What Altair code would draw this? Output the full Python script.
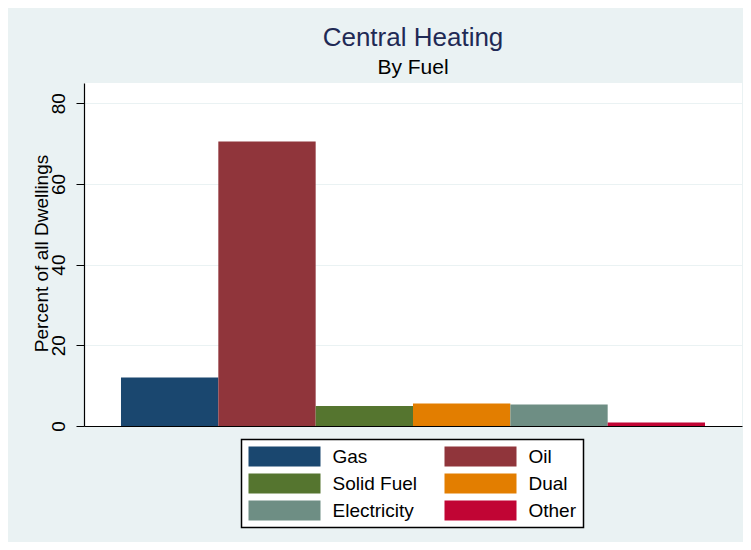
import altair as alt
import pandas as pd

fuels = ["Gas", "Oil", "Solid Fuel", "Dual", "Electricity", "Other"]
percents = [12.0, 70.5, 4.95, 5.6, 5.3, 0.85]
colors = ["#1a476f", "#90353b", "#55752f", "#e37e00", "#6e8e84", "#c10534"]
y_ticks = [0, 20, 40, 60, 80]

df = pd.DataFrame({"fuel": fuels, "pct": percents})

FONT = "Liberation Sans"
BG = "#eaf2f3"
# wide rectangle, 7.2 x 2 units (scaled by sqrt(size)/2 = 10 px), left edge at -1
rect_path = "M-1,-1L6.2,-1L6.2,1L-1,1Z"

chart = alt.Chart(df).mark_bar().encode(
    x=alt.X("fuel:N", sort=fuels,
            scale=alt.Scale(paddingInner=0, paddingOuter=0.38),
            axis=alt.Axis(title=None, labels=False, ticks=False, domain=True,
                          domainColor="#000000", domainWidth=1.2, grid=False)),
    y=alt.Y("pct:Q",
            scale=alt.Scale(domain=[0, 85], nice=False, zero=True),
            axis=alt.Axis(title="Percent of all Dwellings", values=y_ticks,
                          labelAngle=270, labelAlign="center", labelBaseline="alphabetic",
                          labelPadding=12, labelFontSize=19, labelFont=FONT, labelColor="#000000",
                          tickSize=8, tickColor="#000000", tickWidth=1,
                          domainColor="#000000", domainWidth=1.2,
                          grid=True, gridColor=BG, gridWidth=1,
                          titleFontSize=19, titleFont=FONT, titleFontWeight="normal",
                          titleColor="#000000", titleAngle=270, titleAlign="center",
                          titleBaseline="alphabetic", titleX=-37, titleY=170)),
    color=alt.Color("fuel:N", sort=fuels,
                    scale=alt.Scale(domain=fuels, range=colors),
                    legend=alt.Legend(orient="none", legendX=157.5, legendY=356.5,
                                      direction="horizontal",
                                      columns=2, columnPadding=27, rowPadding=7,
                                      padding=7, strokeColor="#000000", fillColor="#ffffff",
                                      symbolType=rect_path, symbolSize=400,
                                      symbolStrokeWidth=0, symbolOpacity=1,
                                      labelFontSize=19, labelFont=FONT, labelColor="#000000",
                                      labelOffset=64, title=None)),
).properties(
    width=658,
    height=343,
    autosize=alt.AutoSizeParams(type="none"),
    padding={"left": 76, "top": 75, "right": 1, "bottom": 116},
    title=alt.TitleParams(text="Central Heating", subtitle="By Fuel",
                          anchor="middle", font=FONT, fontSize=26, fontWeight="normal",
                          color="#1f2a55", subtitleFont=FONT, subtitleFontSize=21,
                          subtitleColor="#000000", subtitlePadding=6, offset=5),
).configure(
    background=BG,
).configure_view(
    fill="#ffffff", stroke=None,
).configure_legend(
    strokeWidth=1.5,
)

chart.save("out.html", embed_options={"renderer": "svg", "actions": False})
